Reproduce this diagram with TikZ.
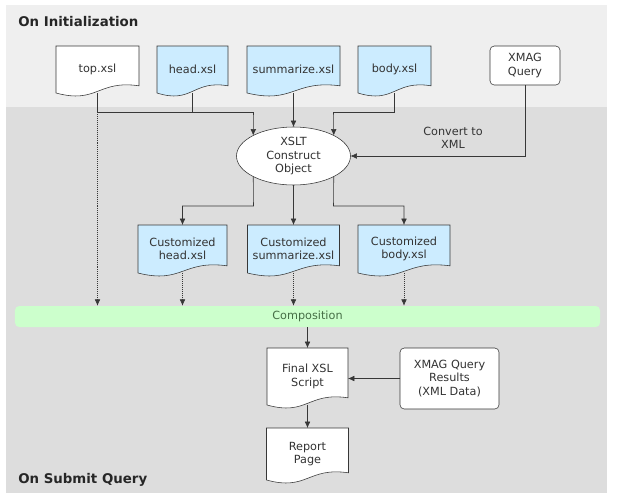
\documentclass[tikz,border=0pt]{standalone}
\usepackage{fontspec}
\setmainfont{DejaVu Sans}
\usetikzlibrary{shapes, arrows.meta, calc, backgrounds}

\definecolor{xslblue}{RGB}{204,236,255}
\definecolor{compgreen}{RGB}{204,255,204}
\definecolor{comptext}{RGB}{70,110,70}
\definecolor{toppanel}{RGB}{239,239,239}
\definecolor{botpanel}{RGB}{221,221,221}
\definecolor{linegray}{RGB}{55,55,55}

% outline of a document shape under node #1
\newcommand{\docshape}[2]{
  \filldraw[draw=linegray, fill=#2] (#1.north west) -- (#1.north east)
  -- ($(#1.south east)+(0,0.18)$) .. controls ($(#1.south)+(0,0.33)$)
  and ($(#1.south)+(0,-0.28)$) .. (#1.south west) -- cycle;
}

\begin{document}
\begin{tikzpicture}[font=\fontsize{8}{9.5}\selectfont, line width=0.6pt]
      \tikzstyle{doc} = [
        rectangle,
        align=center,
        inner sep=1pt,
        outer sep=0pt,
        text=black!80
      ]

      \tikzstyle{query} = [
        rectangle,
        draw=linegray,
        fill=white,
        rounded corners=3pt,
        align=center,
        inner sep=1pt,
        outer sep=0pt,
        text=black!80
      ]

      \tikzstyle{construct} = [
        ellipse,
        draw=linegray,
        fill=white,
        align=center,
        inner sep=1pt,
        outer sep=0pt,
        text=black!80,
        minimum width=2.85cm,
        minimum height=1.45cm
      ]

      \tikzstyle{bar} = [
        rectangle,
        fill=compgreen,
        rounded corners=3pt,
        text=comptext,
        minimum width=14.625cm,
        minimum height=0.525cm
      ]

      \tikzstyle{phase} = [
        font=\fontsize{9.5}{11}\selectfont\bfseries,
        text=black!85,
        anchor=west,
        inner sep=0pt
      ]

      \tikzstyle{line} = [draw=linegray]
      \tikzstyle{arr} = [draw=linegray, -{Latex[length=4.5pt,width=4pt]}]
      \tikzstyle{dotarr} = [arr, densely dotted]

      \useasboundingbox (0,0) rectangle (15.525,-12.375);

      \begin{pgfonlayer}{background}
        \fill[toppanel] (0.15,-0.125) rectangle (15.175,-2.675);
        \fill[botpanel] (0.15,-2.675) rectangle (15.175,-12.325);
      \end{pgfonlayer}

      \node[phase] (init) at (0.45,-0.55) {On Initialization};
      \node[phase] (submit) at (0.45,-12.0) {On Submit Query};

      \node[doc, minimum width=2.075cm, minimum height=1.175cm]
      (topxsl) at (2.4375,-1.7375) {top.xsl};
      \node[doc, minimum width=1.775cm, minimum height=1.175cm]
      (headxsl) at (4.8125,-1.7375) {head.xsl};
      \node[doc, minimum width=2.325cm, minimum height=1.175cm]
      (sumxsl) at (7.3375,-1.7375) {summarize.xsl};
      \node[doc, minimum width=1.825cm, minimum height=1.175cm]
      (bodyxsl) at (9.8625,-1.7375) {body.xsl};
      \node[query, minimum width=1.75cm, minimum height=0.975cm]
      (xmag) at (13.125,-1.6375) {XMAG\\Query};

      \node[construct] (xslt) at (7.3375,-3.9) {XSLT\\Construct\\Object};
      \node[doc] (convert) at (11.325,-3.45) {Convert to\\XML};

      \node[doc, minimum width=2.225cm, minimum height=1.2cm]
      (custhead) at (4.5625,-6.225) {Customized\\head.xsl};
      \node[doc, minimum width=2.3cm, minimum height=1.2cm]
      (custsum) at (7.3375,-6.225) {Customized\\summarize.xsl};
      \node[doc, minimum width=2.3cm, minimum height=1.2cm]
      (custbody) at (10.1,-6.225) {Customized\\body.xsl};

      \node[bar] (comp) at (7.6875,-7.9125) {Composition};

      \node[doc, minimum width=2.025cm, minimum height=1.425cm]
      (final) at (7.6875,-9.4125) {Final XSL\\Script};
      \node[query, minimum width=2.475cm, minimum height=1.525cm]
      (results) at (11.2375,-9.4625) {XMAG Query\\Results\\(XML Data)};
      \node[doc, minimum width=2.05cm, minimum height=1.3cm]
      (report) at (7.6875,-11.35) {Report\\Page};

      \begin{pgfonlayer}{background}
        \docshape{topxsl}{white}
        \docshape{headxsl}{xslblue}
        \docshape{sumxsl}{xslblue}
        \docshape{bodyxsl}{xslblue}
        \docshape{custhead}{xslblue}
        \docshape{custsum}{xslblue}
        \docshape{custbody}{xslblue}
        \docshape{final}{white}
        \docshape{report}{white}
      \end{pgfonlayer}

      \coordinate (tj) at (2.4375,-2.8);
      \coordinate (lj) at (6.3375,-2.8);
      \coordinate (rj) at (8.3375,-2.8);
      \coordinate (ml) at (6.3375,-5.15);
      \coordinate (mr) at (8.3375,-5.15);

      \draw[line] (topxsl) -- (tj) -- (lj);
      \draw[line] (headxsl) -- (headxsl |- lj);
      \draw[arr] (lj) -- (xslt.153);
      \draw[arr] (sumxsl) -- (xslt);
      \draw[line] (bodyxsl) |- (rj);
      \draw[arr] (rj) -- (xslt.27);
      \draw[arr] (xmag) |- (xslt);

      \draw[arr] (xslt.207) -- (ml) -| (custhead);
      \draw[arr] (xslt) -- (custsum);
      \draw[arr] (xslt.333) -- (mr) -| (custbody);

      \draw[dotarr] (tj) -- (tj |- comp.north);
      \draw[dotarr] (custhead) -- (custhead |- comp.north);
      \draw[dotarr] (custsum) -- (custsum |- comp.north);
      \draw[dotarr] (custbody) -- (custbody |- comp.north);

      \draw[arr] (comp.south -| final) -- (final);
      \draw[arr] (results) -- (results -| final.east);
      \draw[arr] (final) -- (report);
    \end{tikzpicture}
\end{document}
